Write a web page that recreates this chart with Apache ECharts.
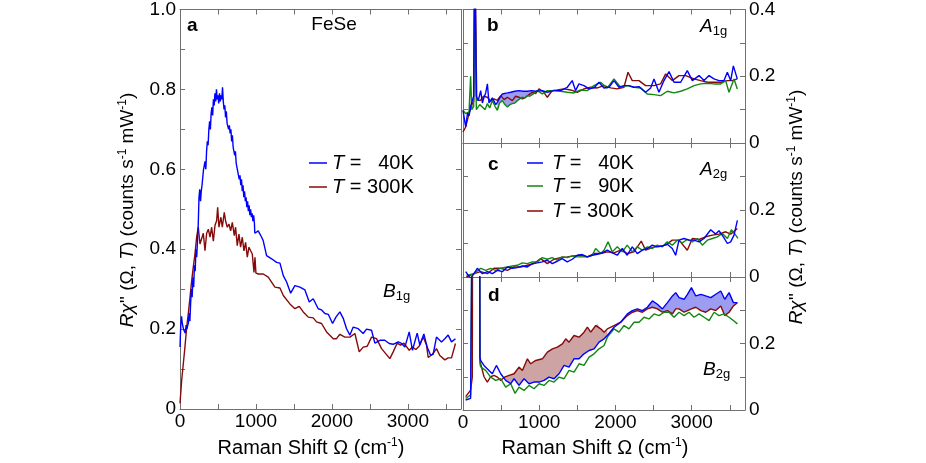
<!DOCTYPE html>
<html>
<head>
<meta charset="utf-8">
<script src="https://cdn.jsdelivr.net/npm/echarts@6.0.0/dist/echarts.min.js"></script>
<style>
  html, body { margin: 0; padding: 0; background: #fff; }
  #chart { width: 926px; height: 463px; }
</style>
</head>
<body>
<div id="chart"></div>
<script>
// ---- panel a: FeSe B1g, [Raman shift (cm-1), R chi''] ----
const a40K = [[0,0.155],[10,0.21],[20,0.232],[30,0.215],[40,0.205],[50,0.198],[60,0.2],[70,0.19],[80,0.21],[90,0.2],
  [100,0.195],[110,0.215],[120,0.24],[130,0.22],[140,0.265],[150,0.3],[160,0.28],[170,0.33],[180,0.305],[190,0.36],
  [200,0.345],[210,0.4],[220,0.38],[230,0.42],[240,0.46],[250,0.53],[260,0.55],[270,0.52],[280,0.545],[290,0.56],
  [300,0.58],[310,0.6],[320,0.595],[330,0.62],[340,0.6],[350,0.645],[360,0.67],[370,0.66],[380,0.7],[390,0.72],
  [400,0.7],[410,0.74],[420,0.755],[430,0.735],[440,0.775],[450,0.76],[460,0.79],[470,0.77],[480,0.8],[490,0.775],
  [500,0.785],[510,0.765],[520,0.79],[530,0.77],[540,0.785],[550,0.775],[560,0.805],[570,0.77],[580,0.75],[590,0.76],
  [600,0.73],[610,0.745],[620,0.715],[630,0.72],[640,0.7],[650,0.71],[660,0.69],[670,0.7],[680,0.67],[690,0.685],
  [700,0.655],[710,0.66],[720,0.635],[730,0.645],[740,0.615],[750,0.62],[760,0.595],[770,0.6],[780,0.575],[790,0.585],
  [800,0.56],[810,0.575],[820,0.545],[830,0.56],[840,0.53],[850,0.545],[860,0.52],[870,0.53],[880,0.505],[890,0.52],
  [900,0.495],[910,0.51],[920,0.485],[930,0.5],[940,0.48],[950,0.49],[960,0.47],[970,0.485],[980,0.465],[985,0.44],
  [1030,0.446],[1075,0.43],[1096,0.421],[1140,0.384],[1206,0.376],[1272,0.367],[1316,0.365],[1360,0.334],[1404,0.318],
  [1457,0.29],[1513,0.309],[1579,0.305],[1645,0.298],[1702,0.268],[1754,0.276],[1820,0.251],[1864,0.248],[1908,0.239],
  [1952,0.237],[2009,0.214],[2053,0.23],[2105,0.243],[2149,0.227],[2193,0.201],[2237,0.185],[2281,0.205],[2346,0.201],
  [2412,0.189],[2456,0.2],[2522,0.197],[2566,0.165],[2632,0.172],[2697,0.172],[2754,0.164],[2807,0.162],[2873,0.168],
  [2917,0.164],[2961,0.155],[3018,0.193],[3061,0.147],[3123,0.19],[3158,0.16],[3211,0.188],[3254,0.155],[3299,0.135],
  [3333,0.137],[3377,0.18],[3443,0.168],[3487,0.176],[3531,0.185],[3575,0.168],[3627,0.176]]
const a300K = [[0,0.014],[22,0.072],[44,0.114],[65,0.155],[88,0.205],[110,0.24],[132,0.28],[154,0.322],[175,0.355],
  [197,0.388],[219,0.43],[241,0.455],[263,0.413],[285,0.41],[307,0.44],[329,0.396],[351,0.44],[373,0.45],[395,0.43],
  [417,0.455],[439,0.42],[461,0.46],[482,0.471],[496,0.505],[513,0.455],[539,0.48],[557,0.455],[583,0.492],[601,0.47],
  [623,0.455],[645,0.463],[667,0.446],[689,0.467],[715,0.434],[732,0.455],[754,0.409],[776,0.438],[798,0.405],[820,0.43],
  [842,0.396],[864,0.417],[886,0.38],[908,0.405],[930,0.396],[952,0.388],[974,0.342],[987,0.38],[1000,0.34],[1030,0.338],
  [1096,0.338],[1162,0.33],[1250,0.305],[1316,0.303],[1360,0.284],[1447,0.263],[1513,0.251],[1570,0.257],[1623,0.243],
  [1689,0.23],[1754,0.228],[1798,0.218],[1864,0.214],[1930,0.193],[2018,0.176],[2061,0.176],[2105,0.187],[2171,0.18],
  [2237,0.18],[2303,0.189],[2360,0.143],[2412,0.155],[2465,0.157],[2522,0.18],[2588,0.176],[2654,0.151],[2763,0.126],
  [2807,0.143],[2860,0.165],[2904,0.16],[2948,0.165],[3018,0.147],[3061,0.155],[3105,0.149],[3149,0.157],[3202,0.18],
  [3246,0.16],[3268,0.129],[3325,0.137],[3377,0.151],[3421,0.134],[3487,0.123],[3531,0.128],[3575,0.128],[3627,0.164]]

// ---- panel b: A1g ----
const b40K = [[0,0.098],[35,0.048],[60,0.09],[79,0.081],[100,0.11],[122,0.127],[140,0.14],[155,0.6],[165,0.6],[175,0.14],
  [200,0.127],[232,0.157],[254,0.12],[276,0.137],[298,0.15],[320,0.177],[341,0.12],[363,0.118],[385,0.135],[407,0.137],
  [430,0.115],[450,0.122],[495,0.14],[516,0.147],[538,0.147],[582,0.15],[625,0.152],[680,0.155],[735,0.157],[790,0.155],
  [844,0.155],[900,0.157],[953,0.155],[1040,0.157],[1106,0.152],[1193,0.157],[1281,0.157],[1368,0.167],[1433,0.187],
  [1477,0.157],[1521,0.177],[1587,0.172],[1653,0.162],[1718,0.165],[1784,0.182],[1849,0.165],[1915,0.167],[1981,0.187],
  [2046,0.167],[2112,0.172],[2178,0.172],[2243,0.167],[2309,0.169],[2396,0.152],[2462,0.165],[2506,0.192],[2571,0.152],
  [2637,0.187],[2703,0.214],[2769,0.182],[2856,0.182],[2943,0.217],[3009,0.187],[3097,0.202],[3162,0.187],[3228,0.202],
  [3293,0.192],[3359,0.187],[3425,0.187],[3468,0.212],[3512,0.187],[3547,0.231],[3599,0.192]]
const b90K = [[0,0.098],[35,0.088],[79,0.093],[100,0.2],[115,0.1],[122,0.098],[140,0.11],[155,0.5],[165,0.5],[175,0.1],
  [188,0.098],[220,0.115],[254,0.108],[290,0.1],[320,0.118],[350,0.105],[385,0.127],[420,0.11],[451,0.098],[480,0.12],
  [516,0.127],[550,0.115],[582,0.108],[615,0.115],[647,0.118],[680,0.12],[713,0.127],[745,0.132],[778,0.137],[811,0.135],
  [844,0.142],[876,0.14],[909,0.145],[942,0.15],[975,0.157],[1040,0.147],[1106,0.157],[1193,0.157],[1281,0.155],
  [1368,0.152],[1455,0.15],[1543,0.159],[1630,0.157],[1718,0.172],[1805,0.182],[1893,0.165],[1981,0.192],[2068,0.167],
  [2156,0.172],[2243,0.167],[2331,0.165],[2418,0.147],[2506,0.145],[2593,0.142],[2681,0.155],[2768,0.15],[2856,0.155],
  [2943,0.162],[3031,0.172],[3118,0.177],[3206,0.179],[3293,0.177],[3381,0.177],[3446,0.187],[3490,0.152],[3556,0.192],
  [3599,0.162]]
const b300K = [[0,0.033],[35,0.048],[79,0.088],[122,0.118],[140,0.125],[155,0.6],[168,0.6],[180,0.13],[225,0.127],
  [270,0.14],[320,0.137],[363,0.125],[407,0.132],[450,0.128],[495,0.142],[540,0.13],[582,0.137],[647,0.127],[690,0.14],
  [735,0.137],[780,0.132],[822,0.137],[866,0.145],[909,0.152],[953,0.148],[997,0.162],[1062,0.152],[1106,0.137],
  [1171,0.157],[1237,0.159],[1325,0.162],[1412,0.159],[1499,0.152],[1587,0.162],[1674,0.167],[1762,0.165],[1849,0.172],
  [1937,0.165],[2024,0.162],[2112,0.167],[2165,0.212],[2221,0.187],[2309,0.187],[2396,0.172],[2506,0.172],[2593,0.177],
  [2659,0.207],[2746,0.187],[2834,0.202],[2921,0.202],[3031,0.192],[3118,0.187],[3206,0.182],[3293,0.182],[3381,0.182],
  [3468,0.187],[3534,0.187],[3599,0.192]]

// ---- panel c: A2g ----
const c40K = [[35,0.016],[100,-0.005],[188,0.026],[254,0.01],[320,0.016],[385,0.01],[451,0.02],[516,0.016],[582,0.03],
  [647,0.026],[713,0.028],[778,0.033],[844,0.03],[909,0.04],[975,0.042],[1040,0.045],[1106,0.05],[1171,0.04],[1237,0.047],
  [1302,0.055],[1368,0.045],[1434,0.053],[1500,0.065],[1565,0.067],[1631,0.06],[1696,0.065],[1762,0.068],[1827,0.072],
  [1893,0.08],[1959,0.072],[2024,0.065],[2090,0.085],[2155,0.065],[2221,0.09],[2287,0.07],[2352,0.08],[2418,0.085],
  [2484,0.095],[2549,0.09],[2615,0.092],[2680,0.098],[2746,0.085],[2790,0.065],[2834,0.11],[2900,0.115],[2965,0.11],
  [3031,0.11],[3097,0.105],[3162,0.115],[3250,0.141],[3315,0.128],[3359,0.138],[3416,0.12],[3469,0.1],[3512,0.105],
  [3556,0.125],[3600,0.169]]
const c90K = [[44,0.005],[144,0.01],[232,0.026],[298,0.02],[363,0.026],[429,0.02],[494,0.026],[582,0.03],[647,0.033],
  [713,0.035],[778,0.042],[844,0.04],[909,0.045],[975,0.045],[1040,0.058],[1106,0.053],[1171,0.058],[1237,0.05],
  [1302,0.06],[1368,0.058],[1434,0.063],[1500,0.06],[1565,0.06],[1631,0.06],[1696,0.065],[1740,0.085],[1806,0.07],
  [1850,0.08],[1903,0.105],[1959,0.075],[2024,0.09],[2090,0.075],[2155,0.095],[2221,0.075],[2287,0.09],[2352,0.08],
  [2418,0.09],[2484,0.085],[2549,0.095],[2615,0.09],[2680,0.105],[2746,0.095],[2812,0.11],[2877,0.102],[2943,0.112],
  [3009,0.105],[3075,0.115],[3140,0.095],[3206,0.11],[3272,0.115],[3337,0.12],[3403,0.13],[3469,0.115],[3521,0.141],
  [3578,0.125],[3608,0.115]]
const c300K = [[44,0],[144,0.01],[232,0.016],[320,0.01],[407,0.026],[495,0.026],[582,0.02],[669,0.03],[757,0.03],
  [844,0.035],[932,0.04],[1019,0.055],[1106,0.04],[1194,0.053],[1281,0.058],[1368,0.06],[1456,0.063],[1543,0.065],
  [1631,0.06],[1718,0.07],[1806,0.07],[1893,0.075],[1981,0.072],[2068,0.08],[2156,0.07],[2243,0.075],[2339,0.107],
  [2396,0.08],[2484,0.088],[2571,0.092],[2659,0.095],[2746,0.11],[2834,0.11],[2943,0.08],[3009,0.115],[3097,0.112],
  [3184,0.12],[3272,0.125],[3359,0.128],[3447,0.135],[3512,0.128],[3600,0.145]]

// ---- panel d: B2g ----
const d40K = [[35,0.03],[100,0.035],[122,0.04],[130,0.9],[215,0.9],[222,0.16],[231,0.149],[275,0.134],[341,0.119],
  [385,0.109],[438,0.134],[495,0.109],[560,0.089],[626,0.079],[670,0.094],[735,0.074],[801,0.094],[866,0.079],[932,0.084],
  [998,0.084],[1063,0.089],[1129,0.099],[1194,0.094],[1260,0.109],[1326,0.134],[1391,0.129],[1457,0.154],[1523,0.154],
  [1588,0.169],[1654,0.179],[1720,0.184],[1785,0.204],[1851,0.214],[1894,0.224],[1982,0.249],[2069,0.264],[2157,0.289],
  [2222,0.299],[2288,0.304],[2354,0.299],[2419,0.309],[2485,0.328],[2551,0.318],[2616,0.304],[2682,0.323],[2748,0.343],
  [2791,0.353],[2835,0.338],[2901,0.333],[2945,0.348],[2997,0.368],[3054,0.343],[3120,0.348],[3185,0.343],[3251,0.338],
  [3316,0.348],[3382,0.358],[3434,0.333],[3491,0.353],[3548,0.323],[3600,0.323]]
const d90K = [[35,0.035],[100,0.045],[122,0.05],[130,0.9],[215,0.9],[222,0.14],[231,0.13],[297,0.119],[363,0.099],
  [429,0.089],[495,0.094],[560,0.069],[626,0.079],[683,0.05],[735,0.069],[801,0.059],[866,0.074],[932,0.064],[998,0.079],
  [1063,0.074],[1129,0.089],[1194,0.084],[1260,0.099],[1326,0.094],[1391,0.119],[1457,0.114],[1523,0.139],[1588,0.134],
  [1654,0.159],[1720,0.169],[1785,0.184],[1851,0.194],[1894,0.219],[1982,0.244],[2047,0.234],[2113,0.254],[2178,0.244],
  [2244,0.264],[2310,0.264],[2375,0.279],[2441,0.274],[2507,0.289],[2572,0.284],[2638,0.294],[2704,0.294],[2769,0.279],
  [2835,0.294],[2901,0.284],[2966,0.294],[3032,0.279],[3097,0.289],[3163,0.279],[3229,0.269],[3294,0.294],[3360,0.284],
  [3426,0.289],[3491,0.279],[3548,0.269],[3600,0.259]]
const d300K = [[35,0.04],[100,0.06],[122,0.099],[128,0.9],[215,0.9],[222,0.15],[231,0.14],[276,0.1],[319,0.084],
  [363,0.1],[407,0.104],[450,0.099],[495,0.089],[545,0.099],[604,0.104],[670,0.109],[735,0.129],[779,0.119],[845,0.154],
  [888,0.139],[954,0.149],[1042,0.154],[1107,0.174],[1173,0.184],[1238,0.189],[1304,0.199],[1348,0.214],[1391,0.204],
  [1457,0.224],[1523,0.219],[1588,0.234],[1632,0.249],[1676,0.234],[1742,0.254],[1763,0.259],[1807,0.244],[1851,0.234],
  [1894,0.244],[1982,0.254],[2069,0.264],[2157,0.284],[2222,0.294],[2288,0.299],[2354,0.294],[2419,0.304],[2485,0.309],
  [2551,0.304],[2616,0.294],[2682,0.299],[2748,0.289],[2791,0.304],[2835,0.304],[2901,0.294],[2945,0.299],[2997,0.304],
  [3054,0.309],[3120,0.299],[3185,0.294],[3251,0.304],[3316,0.299],[3382,0.313],[3434,0.284],[3491,0.294],[3548,0.313],
  [3600,0.323]]

const BLUE = '#0000ff'
const GREEN = '#118811'
const RED = '#850a0a'
const BLUE_FILL = '#9c9cf2'
const RED_FILL = '#cda3a3'
const AXC = '#707070'
const FONT = "'Liberation Sans', Arial, sans-serif"

const chart = echarts.init(document.getElementById('chart'), null, { renderer: 'canvas' })

// grids: a, b, c, d
const grids = [
  { left: 180, top: 8, width: 281, height: 401 },
  { left: 463, top: 8, width: 282, height: 135 },
  { left: 463, top: 143, width: 282, height: 134 },
  { left: 463, top: 277, width: 282, height: 133 }
]

function fmtY (v, max) {
  const k = Math.round(v * 10)
  if (k % 2 !== 0 || k > max * 10 + 0.01) return ''
  return k === 0 ? '0' : (k / 10).toFixed(1)
}

function xAx (g, pos, labels) {
  return {
    type: 'value', gridIndex: g, position: pos, min: 0, max: 3700, interval: 500,
    axisLine: { show: true, onZero: false, lineStyle: { color: AXC, width: 1 } },
    axisTick: { show: true, inside: true, length: 5, lineStyle: { color: AXC } },
    axisLabel: {
      show: labels, margin: 3, fontSize: 19, color: '#000', fontFamily: FONT,
      formatter: function (v) { return v % 1000 === 0 ? String(v) : '' }
    },
    splitLine: { show: false }
  }
}

function yAx (g, pos, max, labelMax) {
  return {
    type: 'value', gridIndex: g, position: pos, min: 0, max: max, interval: 0.1,
    axisLine: { show: true, onZero: false, lineStyle: { color: AXC, width: 1 } },
    axisTick: { show: true, inside: true, length: 5, lineStyle: { color: AXC } },
    axisLabel: {
      show: labelMax !== null, margin: 4, fontSize: 19, color: '#000', fontFamily: FONT,
      formatter: function (v) { return fmtY(v, labelMax) }
    },
    splitLine: { show: false }
  }
}

const xAxes = []
const yAxes = []
for (let g = 0; g < 4; g++) {
  xAxes.push(xAx(g, 'bottom', g === 0 || g === 3))
  xAxes.push(xAx(g, 'top', false))
}
yAxes.push(yAx(0, 'left', 1, 1), yAx(0, 'right', 1, null))
yAxes.push(yAx(1, 'left', 0.4, null), yAx(1, 'right', 0.4, 0.4))
yAxes.push(yAx(2, 'left', 0.4, null), yAx(2, 'right', 0.4, 0.2))
yAxes.push(yAx(3, 'left', 0.4, null), yAx(3, 'right', 0.4, 0.2))

function line (g, data, color) {
  return {
    type: 'line', xAxisIndex: 2 * g, yAxisIndex: 2 * g, data: data,
    showSymbol: false, symbol: 'none', clip: true, z: 3,
    lineStyle: { color: color, width: 1.4 }, itemStyle: { color: color }
  }
}

// shaded band between two curves, built through the axes
function band (g, upper, lower, x0, x1, color) {
  return {
    type: 'custom', xAxisIndex: 2 * g, yAxisIndex: 2 * g, coordinateSystem: 'cartesian2d',
    data: [[x0, 0]], z: 2, silent: true,
    renderItem: function (params, api) {
      const pts = []
      upper.forEach(function (p) { if (p[0] >= x0 && p[0] <= x1) pts.push(api.coord(p)) })
      lower.slice().reverse().forEach(function (p) { if (p[0] >= x0 && p[0] <= x1) pts.push(api.coord(p)) })
      return { type: 'polygon', shape: { points: pts }, style: { fill: color, stroke: null } }
    }
  }
}

const series = [
  line(0, a300K, RED), line(0, a40K, BLUE),
  band(1, b40K, b90K, 450, 1000, BLUE_FILL),
  line(1, b300K, RED), line(1, b90K, GREEN), line(1, b40K, BLUE),
  line(2, c300K, RED), line(2, c90K, GREEN), line(2, c40K, BLUE),
  band(3, d300K, d40K, 515, 1950, RED_FILL),
  band(3, d40K, d300K, 2150, 3600, BLUE_FILL),
  line(3, d300K, RED), line(3, d90K, GREEN), line(3, d40K, BLUE)
]

const rich = {
  i: { fontStyle: 'italic', fontSize: 19, fontFamily: FONT, lineHeight: 22 },
  n: { fontSize: 19, fontFamily: FONT, lineHeight: 22 },
  t: { fontSize: 20, fontFamily: FONT, lineHeight: 22 },
  s: { fontSize: 12, fontFamily: FONT, verticalAlign: 'top', lineHeight: 12 },
  sub: { fontSize: 13, fontFamily: FONT, verticalAlign: 'bottom', lineHeight: 12 },
  b: { fontSize: 19, fontWeight: 'bold', fontFamily: FONT, lineHeight: 22 },
  li: { fontStyle: 'italic', fontSize: 20, fontFamily: FONT, lineHeight: 22 },
  ln: { fontSize: 20, fontFamily: FONT, lineHeight: 22 }
}

function txt (x, y, text, align, rot) {
  return {
    type: 'text', x: x, y: y, rotation: rot || 0, z: 10,
    style: { text: text, rich: rich, fontSize: 19, fontFamily: FONT, fill: '#000',
      align: align || 'left', verticalAlign: 'middle' }
  }
}

function seg (x1, x2, y, color) {
  return { type: 'line', z: 10, shape: { x1: x1, y1: y, x2: x2, y2: y }, style: { stroke: color, lineWidth: 1.5 } }
}

const yTitle = "{i|R}{i|χ}{n|'' (Ω, }{i|T}{n|) (counts s}{s|-1}{n| mW}{s|-1}{n|)}"
const xTitle = '{t|Raman Shift Ω (cm}{s|-1}{t|)}'

const graphics = [
  txt(187, 26, '{b|a}'), txt(334, 25, '{n|FeSe}', 'center'),
  txt(383, 292, '{i|B}{sub|1g}'),
  seg(309, 327, 163, BLUE), txt(332, 163, '{li|T}{ln| = \u200740K}'),
  seg(309, 327, 187, RED), txt(332, 187, '{li|T}{ln| = 300K}'),
  txt(487, 26, '{b|b}'), txt(700, 27, '{i|A}{sub|1g}'),
  txt(488, 165, '{b|c}'), txt(700, 170, '{i|A}{sub|2g}'),
  seg(527, 543, 163, BLUE), txt(552, 163, '{li|T}{ln| = \u200740K}'),
  seg(527, 543, 186, GREEN), txt(552, 186, '{li|T}{ln| = \u200790K}'),
  seg(527, 543, 211, RED), txt(552, 211, '{li|T}{ln| = 300K}'),
  txt(488, 296, '{b|d}'), txt(703, 370, '{i|B}{sub|2g}'),
  txt(311, 448, xTitle, 'center'), txt(595, 448, xTitle, 'center'),
  txt(128, 210, yTitle, 'center', Math.PI / 2), txt(797, 207, yTitle, 'center', Math.PI / 2)
]

chart.setOption({
  animation: false,
  backgroundColor: '#fff',
  grid: grids,
  xAxis: xAxes,
  yAxis: yAxes,
  series: series,
  graphic: graphics
})
</script>
</body>
</html>
